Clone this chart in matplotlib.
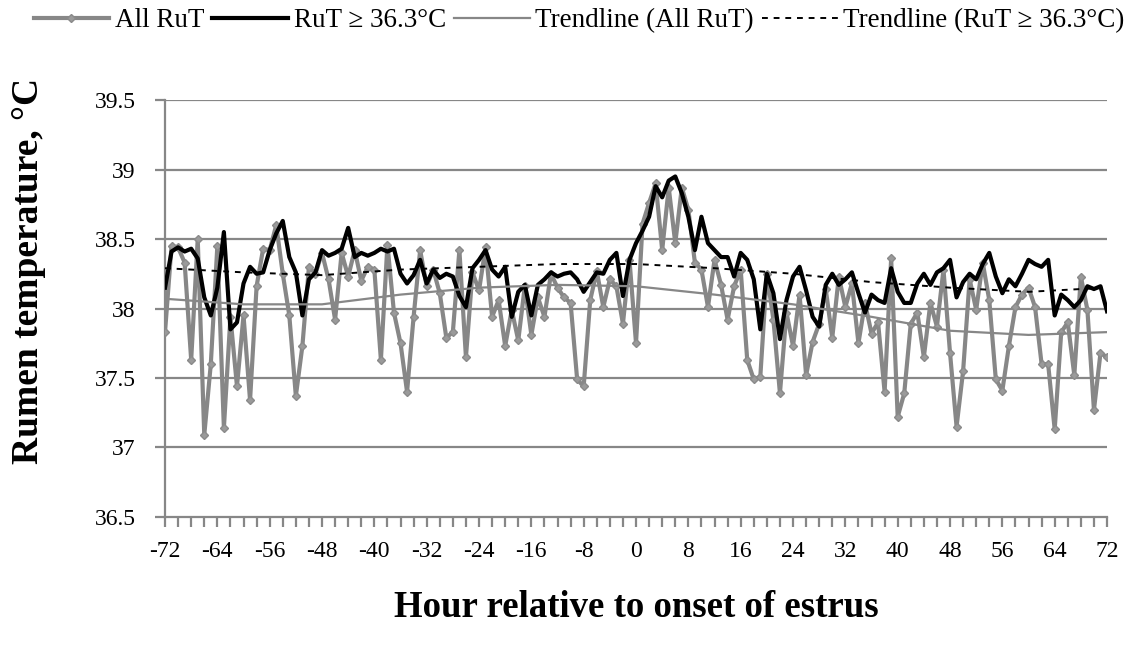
import matplotlib
matplotlib.use("Agg")
import matplotlib.pyplot as plt
from matplotlib.ticker import MultipleLocator

plt.rcParams['font.family'] = ['Liberation Serif', 'DejaVu Serif']

# hours relative to onset of estrus
hours = list(range(-72, 73))

# all rumen temperatures (hourly means)
all_rut = [
    37.83, 38.45, 38.44, 38.33, 37.63, 38.50, 37.09, 37.60, 38.45, 37.14,
    37.94, 37.44, 37.95, 37.34, 38.16, 38.43, 38.42, 38.60, 38.25, 37.95,
    37.37, 37.73, 38.30, 38.25, 38.40, 38.21, 37.92, 38.40, 38.23, 38.42,
    38.20, 38.30, 38.28, 37.63, 38.46, 37.97, 37.75, 37.40, 37.94, 38.42,
    38.16, 38.28, 38.11, 37.79, 37.83, 38.42, 37.65, 38.26, 38.13, 38.44,
    37.94, 38.06, 37.73, 37.99, 37.77, 38.16, 37.81, 38.08, 37.94, 38.25,
    38.15, 38.08, 38.04, 37.49, 37.44, 38.06, 38.27, 38.01, 38.21, 38.16,
    37.89, 38.35, 37.75, 38.61, 38.76, 38.90, 38.42, 38.87, 38.47, 38.87,
    38.71, 38.33, 38.28, 38.01, 38.35, 38.17, 37.92, 38.16, 38.28, 37.63,
    37.49, 37.51, 38.25, 37.92, 37.39, 37.97, 37.73, 38.10, 37.52, 37.76,
    37.89, 38.14, 37.79, 38.23, 38.01, 38.18, 37.75, 38.04, 37.82, 37.90,
    37.40, 38.36, 37.22, 37.39, 37.89, 37.97, 37.65, 38.04, 37.87, 38.28,
    37.68, 37.15, 37.55, 38.21, 37.99, 38.33, 38.06, 37.49, 37.41, 37.73,
    38.01, 38.10, 38.15, 38.01, 37.60, 37.60, 37.13, 37.83, 37.90, 37.52,
    38.23, 37.99, 37.27, 37.68, 37.65,
]

# rumen temperatures >= 36.3 C
hi_rut = [
    38.15, 38.41, 38.44, 38.41, 38.43, 38.36, 38.08, 37.95, 38.15, 38.55,
    37.85, 37.90, 38.18, 38.30, 38.25, 38.26, 38.42, 38.54, 38.63, 38.37,
    38.26, 37.95, 38.21, 38.26, 38.42, 38.38, 38.40, 38.43, 38.58, 38.37,
    38.40, 38.38, 38.40, 38.43, 38.41, 38.43, 38.25, 38.18, 38.24, 38.35,
    38.18, 38.28, 38.22, 38.25, 38.23, 38.09, 38.01, 38.29, 38.35, 38.42,
    38.28, 38.23, 38.30, 37.94, 38.12, 38.17, 37.95, 38.17, 38.21, 38.26,
    38.23, 38.25, 38.26, 38.21, 38.12, 38.19, 38.26, 38.25, 38.35, 38.40,
    38.09, 38.35, 38.47, 38.56, 38.66, 38.88, 38.80, 38.92, 38.95, 38.83,
    38.66, 38.42, 38.66, 38.47, 38.42, 38.37, 38.37, 38.23, 38.40, 38.35,
    38.21, 37.85, 38.25, 38.11, 37.78, 38.06, 38.23, 38.30, 38.13, 37.94,
    37.87, 38.17, 38.25, 38.17, 38.21, 38.26, 38.11, 37.97, 38.10, 38.06,
    38.04, 38.29, 38.12, 38.04, 38.04, 38.18, 38.25, 38.17, 38.26, 38.29,
    38.35, 38.08, 38.19, 38.25, 38.21, 38.32, 38.40, 38.23, 38.11, 38.21,
    38.16, 38.25, 38.35, 38.32, 38.30, 38.35, 37.95, 38.10, 38.06, 38.01,
    38.06, 38.16, 38.14, 38.16, 37.98,
]

# trendlines
trend_hours = [-72, -60, -48, -36, -24, -12, 0, 12, 24, 36, 48, 60, 72]
trend_all = [38.07, 38.03, 38.03, 38.10, 38.15, 38.17, 38.16, 38.10, 38.03, 37.94, 37.84, 37.81, 37.83]
trend_hi = [38.29, 38.26, 38.24, 38.28, 38.30, 38.32, 38.32, 38.29, 38.25, 38.19, 38.15, 38.12, 38.15]

y_ticks = [36.5, 37, 37.5, 38, 38.5, 39, 39.5]
y_labels = ['36.5', '37', '37.5', '38', '38.5', '39', '39.5']

axis_grey = '#878787'
series_grey = '#878787'

fig = plt.figure(figsize=(11.31, 6.49), dpi=100)
ax = fig.add_axes([0.1459, 0.2034, 0.8329, 0.6425])

l1, = ax.plot(hours, all_rut, color=series_grey, lw=3.0, marker='D', ms=4,
              mfc='#9a9a9a', mec='#8a8a8a', label='All RuT', zorder=3)
l2, = ax.plot(hours, hi_rut, color='black', lw=3.0, label='RuT \u2265 36.3\u00b0C', zorder=4)
l3, = ax.plot(trend_hours, trend_all, color=series_grey, lw=1.6,
              label='Trendline (All RuT)', zorder=5)
l4, = ax.plot(trend_hours, trend_hi, color='black', lw=1.4, ls=(0, (3, 3)),
              label='Trendline (RuT \u2265 36.3\u00b0C)', zorder=5)

ax.set_xlim(-72, 72)
ax.set_ylim(36.5, 39.5)
ax.set_yticks(y_ticks)
ax.set_yticklabels(y_labels)
ax.xaxis.set_major_locator(MultipleLocator(8))
ax.xaxis.set_minor_locator(MultipleLocator(2))
ax.set_xticklabels([str(int(t)) for t in ax.get_xticks()])

for y in y_ticks[1:]:
    ax.axhline(y, color=axis_grey, lw=1.6, zorder=1)

for s in ['top', 'right']:
    ax.spines[s].set_visible(False)
for s in ['left', 'bottom']:
    ax.spines[s].set_color(axis_grey)
    ax.spines[s].set_linewidth(1.6)

ax.tick_params(axis='x', which='both', direction='out', length=7, width=1.6,
               color=axis_grey, labelsize=17, pad=10)
ax.tick_params(axis='y', which='major', direction='out', length=7, width=1.6,
               color=axis_grey, labelsize=17, pad=14)

ax.set_ylabel('Rumen temperature, \u00b0C', fontsize=27, fontweight='bold')
ax.yaxis.set_label_coords(-0.126, 0.59)
ax.set_xlabel('Hour relative to onset of estrus', fontsize=26.5, fontweight='bold')
ax.xaxis.set_label_coords(0.5, -0.175)

fig.legend(handles=[l1, l2, l3, l4], loc='upper center', bbox_to_anchor=(0.512, 1.025),
           ncol=4, frameon=False, fontsize=19.5, handlelength=2.8,
           columnspacing=0.3, handletextpad=0.2)

fig.savefig('out.png', dpi=100)
